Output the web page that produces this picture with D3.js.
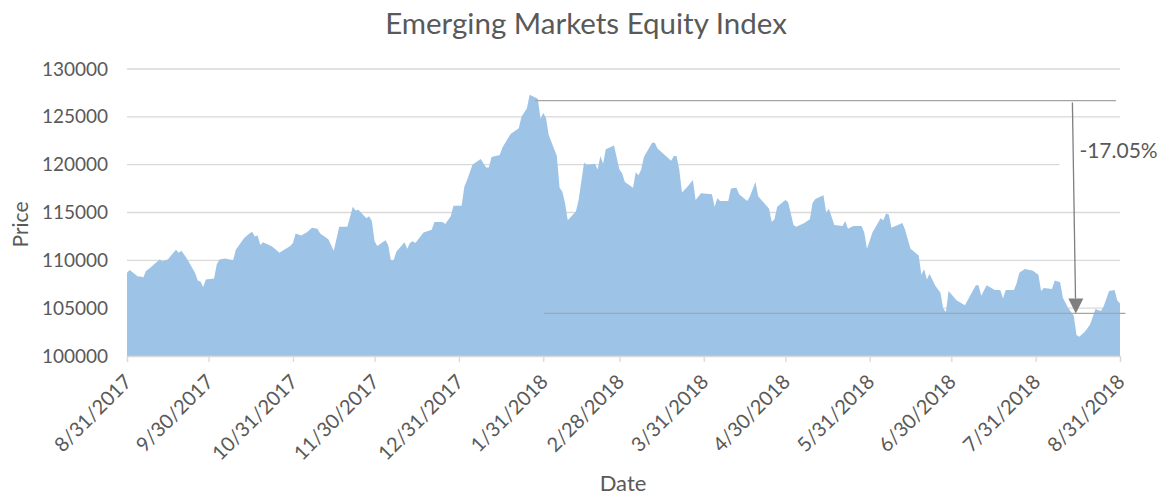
<!DOCTYPE html>
<html lang="en">
<head>
<meta charset="UTF-8">
<title>Emerging Markets Equity Index</title>
<script src="https://d3js.org/d3.v7.min.js"></script>
<style>
  body { margin: 0; background: #fff; font-family: Lato, "Open Sans", sans-serif; }
  svg text { fill: #595959; }
</style>
</head>
<body>
<svg width="1161" height="497"></svg>
<script>
// daily closes
const dates = [
  "2017-08-31","2017-09-01","2017-09-04","2017-09-05","2017-09-06","2017-09-07","2017-09-08","2017-09-12",
  "2017-09-13","2017-09-15","2017-09-18","2017-09-19","2017-09-20","2017-09-22","2017-09-25","2017-09-26",
  "2017-09-27","2017-09-28","2017-09-29","2017-10-02","2017-10-03","2017-10-04","2017-10-06","2017-10-09",
  "2017-10-10","2017-10-13","2017-10-15","2017-10-16","2017-10-17","2017-10-18","2017-10-19","2017-10-20",
  "2017-10-23","2017-10-24","2017-10-26","2017-10-30","2017-10-31","2017-11-01","2017-11-03","2017-11-05",
  "2017-11-07","2017-11-09","2017-11-10","2017-11-13","2017-11-15","2017-11-17","2017-11-20","2017-11-22",
  "2017-11-23","2017-11-24","2017-11-27","2017-11-28","2017-11-29","2017-11-30","2017-12-01","2017-12-04",
  "2017-12-05","2017-12-06","2017-12-07","2017-12-08","2017-12-11","2017-12-12","2017-12-13","2017-12-14",
  "2017-12-15","2017-12-18","2017-12-21","2017-12-22","2017-12-25","2017-12-26","2017-12-28","2017-12-29",
  "2018-01-01","2018-01-02","2018-01-03","2018-01-05","2018-01-08","2018-01-10","2018-01-11","2018-01-12",
  "2018-01-15","2018-01-16","2018-01-19","2018-01-22","2018-01-23","2018-01-25","2018-01-26","2018-01-29",
  "2018-01-30","2018-01-31","2018-02-01","2018-02-02","2018-02-05","2018-02-06","2018-02-07","2018-02-08",
  "2018-02-09","2018-02-12","2018-02-13","2018-02-15","2018-02-16","2018-02-19","2018-02-20","2018-02-21",
  "2018-02-22","2018-02-23","2018-02-26","2018-02-28","2018-03-01","2018-03-02","2018-03-05","2018-03-06",
  "2018-03-07","2018-03-08","2018-03-09","2018-03-12","2018-03-13","2018-03-14","2018-03-19","2018-03-20",
  "2018-03-21","2018-03-22","2018-03-23","2018-03-25","2018-03-27","2018-03-28","2018-03-30","2018-04-03",
  "2018-04-04","2018-04-05","2018-04-06","2018-04-09","2018-04-10","2018-04-12","2018-04-13","2018-04-16",
  "2018-04-17","2018-04-19","2018-04-20","2018-04-24","2018-04-25","2018-04-26","2018-04-27","2018-04-30",
  "2018-05-01","2018-05-03","2018-05-04","2018-05-07","2018-05-09","2018-05-10","2018-05-11","2018-05-14",
  "2018-05-15","2018-05-16","2018-05-18","2018-05-21","2018-05-22","2018-05-23","2018-05-25","2018-05-28",
  "2018-05-29","2018-05-30","2018-06-01","2018-06-04","2018-06-05","2018-06-06","2018-06-07","2018-06-08",
  "2018-06-12","2018-06-13","2018-06-15","2018-06-18","2018-06-19","2018-06-20","2018-06-21","2018-06-22",
  "2018-06-24","2018-06-26","2018-06-27","2018-06-28","2018-06-29","2018-07-02","2018-07-05","2018-07-09",
  "2018-07-10","2018-07-11","2018-07-13","2018-07-16","2018-07-18","2018-07-19","2018-07-20","2018-07-23",
  "2018-07-24","2018-07-25","2018-07-27","2018-07-30","2018-08-01","2018-08-02","2018-08-03","2018-08-06",
  "2018-08-07","2018-08-09","2018-08-10","2018-08-12","2018-08-14","2018-08-15","2018-08-16","2018-08-18",
  "2018-08-20","2018-08-22","2018-08-24","2018-08-25","2018-08-27","2018-08-29","2018-08-30","2018-08-31"
];
const prices = [
  108700,109000,108300,108300,108200,108900,109100,110100,
  109900,110100,111100,110800,111000,110200,108700,107900,
  107800,107200,108000,108100,109600,110100,110200,110000,
  111100,112300,112800,113000,112500,112600,111600,111900,
  111500,111300,110800,111500,111800,112800,112600,112900,
  113400,113300,112800,112200,111000,113500,113500,115600,
  115200,115300,114400,114600,114100,112000,111500,112100,
  111600,110000,110000,110900,111900,111200,111800,112000,
  111800,112900,113200,114000,114000,113800,114600,115700,
  115700,117700,118400,120000,120600,119700,119700,120800,
  121000,121800,123200,123800,125000,125900,127300,126900,
  124800,125400,124900,123100,120900,117600,117200,116000,
  114200,115100,116300,120200,120000,120100,119500,120900,
  120100,121600,122000,119500,119100,118200,117600,119200,
  118900,119500,120800,122300,122300,121700,120400,120900,
  120900,119500,117100,117700,118400,116300,117000,116900,
  115600,116500,116200,116200,117500,117600,116900,116200,
  116700,118200,116700,115400,114000,114300,115600,116300,
  116100,113700,113500,113900,114300,116000,116400,116800,
  115000,115400,113700,113600,114100,113300,113600,113600,
  112900,111200,112900,114400,114200,114900,114800,113400,
  113900,113200,111200,110500,108500,109100,108000,108600,
  107400,106600,105000,104600,106800,105800,105300,107400,
  107400,106300,107400,106900,106900,106000,106900,106900,
  107600,108700,109100,108900,108500,106800,107100,107000,
  107900,107700,106100,105000,104200,102200,102000,102500,
  103300,104900,104700,105200,106800,106900,105800,105500
];
const yTicks = [100000, 105000, 110000, 115000, 120000, 125000, 130000];
const xTicks = ["2017-08-31","2017-09-30","2017-10-31","2017-11-30","2017-12-31","2018-01-31",
                "2018-02-28","2018-03-31","2018-04-30","2018-05-31","2018-06-30","2018-07-31","2018-08-31"];

// drawdown annotation
const peakLevel = 126700;
const troughLevel = 104450;
const peakLine = ["2018-01-28", "2018-08-29T12:00"];
const troughLine = ["2018-01-31T10:00", "2018-09-02"];
const arrowDates = ["2018-08-13T12:00", "2018-08-14T18:00"];
const changeLabel = "-17.05%";

const parse = d3.isoParse;
const fmt = d3.timeFormat("%-m/%-d/%Y");

const svg = d3.select("svg"),
      margin = {top: 69, right: 41, bottom: 141, left: 127},
      width = +svg.attr("width") - margin.left - margin.right,
      height = +svg.attr("height") - margin.top - margin.bottom;

const g = svg.append("g").attr("transform", `translate(${margin.left},${margin.top})`);

const data = dates.map((d, i) => ({date: parse(d), price: prices[i]}));

const x = d3.scaleTime()
  .domain([parse(xTicks[0]), parse(xTicks[xTicks.length - 1])])
  .range([0, width]);

const y = d3.scaleLinear()
  .domain([yTicks[0], yTicks[yTicks.length - 1]])
  .range([height, 0]);

// gridlines
g.append("g")
  .selectAll("line")
  .data(yTicks.slice(1))
  .join("line")
  .attr("x1", 0).attr("x2", width)
  .attr("y1", d => y(d)).attr("y2", d => y(d))
  .attr("stroke", "#d9d9d9")
  .attr("stroke-width", 1.3);

// area
const area = d3.area()
  .x(d => x(d.date))
  .y0(y(yTicks[0]))
  .y1(d => y(d.price));

g.append("path")
  .datum(data)
  .attr("fill", "#9dc3e6")
  .attr("d", area);

// x axis
const xAxis = g.append("g")
  .attr("transform", `translate(0,${height})`)
  .call(d3.axisBottom(x).tickValues(xTicks.map(parse)).tickSize(6).tickFormat(""));
xAxis.select(".domain").attr("stroke", "#d9d9d9").attr("stroke-width", 1.3);
xAxis.selectAll(".tick line").attr("stroke", "#d9d9d9").attr("stroke-width", 1.3);

g.append("g")
  .selectAll("text")
  .data(xTicks)
  .join("text")
  .attr("transform", d => `translate(${x(parse(d)) + 6},${height + 27}) rotate(-45)`)
  .attr("text-anchor", "end")
  .style("font-size", "20px")
  .text(d => fmt(parse(d)));

// y labels
g.append("g")
  .selectAll("text")
  .data(yTicks)
  .join("text")
  .attr("x", -19)
  .attr("y", d => y(d))
  .attr("dy", "0.35em")
  .attr("text-anchor", "end")
  .style("font-size", "19px")
  .text(d => d);

// annotation lines
g.append("line")
  .attr("x1", x(parse(peakLine[0]))).attr("x2", x(parse(peakLine[1])))
  .attr("y1", y(peakLevel)).attr("y2", y(peakLevel))
  .attr("stroke", "#a5a5a5").attr("stroke-width", 1.3);

g.append("line")
  .attr("x1", x(parse(troughLine[0]))).attr("x2", x(parse(troughLine[1])))
  .attr("y1", y(troughLevel)).attr("y2", y(troughLevel))
  .attr("stroke", "#a5a5a5").attr("stroke-width", 1.3);

// label box hides the gridline behind it
const ax0 = x(parse(arrowDates[0])), ax1 = x(parse(arrowDates[1]));
g.append("rect")
  .attr("x", ax0 - 13)
  .attr("y", y(peakLevel) + 28)
  .attr("width", 120)
  .attr("height", 50)
  .attr("fill", "#fff");

// arrow
const headH = 15, headW = 15;
const tipY = y(troughLevel);
g.append("line")
  .attr("x1", ax0).attr("y1", y(peakLevel) + 2)
  .attr("x2", ax1 - 0.3).attr("y2", tipY - headH)
  .attr("stroke", "#7f7f7f").attr("stroke-width", 1.3);
g.append("path")
  .attr("d", `M${ax1},${tipY} L${ax1 - headW / 2},${tipY - headH} L${ax1 + headW / 2},${tipY - headH} Z`)
  .attr("fill", "#7f7f7f");

g.append("text")
  .attr("x", ax0 + 7)
  .attr("y", y(peakLevel) + 57)
  .style("font-size", "21px")
  .text(changeLabel);

// titles
svg.append("text")
  .attr("x", 586)
  .attr("y", 34)
  .attr("text-anchor", "middle")
  .style("font-size", "29.5px")
  .text("Emerging Markets Equity Index");

svg.append("text")
  .attr("transform", `translate(28,${margin.top + height / 2 + 12}) rotate(-90)`)
  .attr("text-anchor", "middle")
  .style("font-size", "21px")
  .text("Price");

svg.append("text")
  .attr("x", 623)
  .attr("y", 491)
  .attr("text-anchor", "middle")
  .style("font-size", "22px")
  .text("Date");
</script>
</body>
</html>
